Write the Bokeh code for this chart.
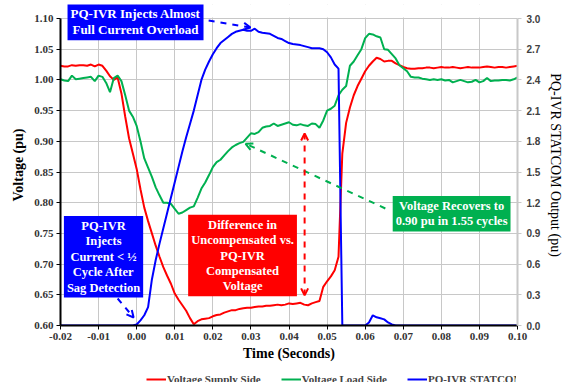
import math
import numpy as np
from bokeh.plotting import figure
from bokeh.layouts import column
from bokeh.models import (LinearAxis, Range1d, FixedTicker, NumeralTickFormatter,
                          Label, Arrow, OpenHead, Legend, LegendItem, BoxAnnotation)
from bokeh.embed import file_html
from bokeh.resources import INLINE

# ---------------- data ----------------
time_s = [round(-0.020 + 0.001 * i, 3) for i in range(121)]

v_supply = [
    1.023, 1.022, 1.022, 1.024, 1.023, 1.024, 1.024, 1.023, 1.025, 1.022,
    1.025, 1.023, 1.015, 1.006, 1.000, 1.004, 0.978, 0.940, 0.905, 0.880,
    0.855, 0.822, 0.792, 0.770, 0.750, 0.730, 0.712, 0.695, 0.681, 0.668,
    0.652, 0.642, 0.633, 0.624, 0.612, 0.602, 0.607, 0.610, 0.611, 0.612,
    0.615, 0.617, 0.618, 0.621, 0.623, 0.625, 0.625, 0.627, 0.628, 0.629,
    0.629, 0.630, 0.631, 0.631, 0.632, 0.632, 0.633, 0.634, 0.633, 0.634,
    0.636, 0.635, 0.636, 0.637, 0.634, 0.633, 0.636, 0.638, 0.640, 0.663,
    0.672, 0.680, 0.690, 0.712, 0.880, 0.930, 0.955, 0.975, 0.990, 1.002,
    1.014, 1.023, 1.030, 1.036, 1.034, 1.030, 1.031, 1.031, 1.027, 1.024,
    1.021, 1.019, 1.018, 1.018, 1.019, 1.019, 1.020, 1.020, 1.019, 1.020,
    1.021, 1.020, 1.020, 1.021, 1.020, 1.019, 1.020, 1.021, 1.020, 1.020,
    1.020, 1.021, 1.022, 1.021, 1.020, 1.021, 1.021, 1.020, 1.021, 1.022,
    1.023,
]

v_load = [
    1.001, 0.999, 0.998, 1.007, 1.001, 1.002, 1.003, 1.004, 1.005, 0.998,
    1.007, 1.005, 0.995, 0.980, 1.003, 1.007, 0.998, 0.975, 0.950, 0.940,
    0.925, 0.900, 0.872, 0.857, 0.842, 0.825, 0.812, 0.800, 0.800, 0.798,
    0.790, 0.782, 0.784, 0.788, 0.792, 0.794, 0.808, 0.823, 0.833, 0.845,
    0.858, 0.866, 0.870, 0.877, 0.884, 0.890, 0.894, 0.897, 0.899, 0.906,
    0.913, 0.912, 0.915, 0.922, 0.924, 0.925, 0.929, 0.925, 0.927, 0.929,
    0.931, 0.927, 0.926, 0.928, 0.926, 0.925, 0.929, 0.928, 0.922, 0.934,
    0.950, 0.953, 0.958, 0.975, 0.984, 0.990, 1.023, 1.030, 1.040, 1.050,
    1.068, 1.075, 1.074, 1.071, 1.069, 1.050, 1.049, 1.042, 1.035, 1.024,
    1.019, 1.014, 1.005, 1.004, 1.004, 1.002, 1.001, 1.000, 1.001, 1.000,
    1.001, 0.999, 1.000, 0.996, 0.998, 1.000, 0.998, 0.996, 0.997, 1.000,
    0.996, 0.998, 1.003, 0.998, 0.999, 0.999, 1.000, 1.000, 0.999, 1.001,
    1.004,
]

statcom = [
    0.0, 0.0, 0.0, 0.0, 0.0, 0.0, 0.0, 0.0, 0.0, 0.0,
    0.0, 0.0, 0.0, 0.0, 0.0, 0.0, 0.0, 0.0, 0.0, 0.0,
    0.01, 0.05, 0.10, 0.18, 0.45, 0.64, 0.80, 0.95, 1.10, 1.25,
    1.40, 1.55, 1.70, 1.84, 1.97, 2.10, 2.25, 2.40, 2.50, 2.58,
    2.65, 2.71, 2.76, 2.79, 2.82, 2.85, 2.87, 2.88, 2.89, 2.88,
    2.88, 2.90, 2.87, 2.86, 2.855, 2.85, 2.83, 2.81, 2.80, 2.78,
    2.76, 2.75, 2.745, 2.74, 2.73, 2.72, 2.71, 2.71, 2.71, 2.70,
    2.67, 2.62, 2.55, 2.51, 0.0, 0.0, 0.0, 0.0, 0.0, 0.0,
    0.0, 0.03, 0.10, 0.08, 0.07, 0.06, 0.03, 0.01, 0.0, 0.0,
    0.0, 0.0, 0.0, 0.0, 0.0, 0.0, 0.0, 0.0, 0.0, 0.0,
    0.0, 0.0, 0.0, 0.0, 0.0, 0.0, 0.0, 0.0, 0.0, 0.0,
    0.0, 0.0, 0.0, 0.0, 0.0, 0.0, 0.0, 0.0, 0.0, 0.0,
    0.0,
]

x_ticks = [-0.02, -0.01, 0.0, 0.01, 0.02, 0.03, 0.04, 0.05, 0.06, 0.07, 0.08, 0.09, 0.10]
left_ticks = [0.60, 0.65, 0.70, 0.75, 0.80, 0.85, 0.90, 0.95, 1.00, 1.05, 1.10]
right_ticks = [0.0, 0.3, 0.6, 0.9, 1.2, 1.5, 1.8, 2.1, 2.4, 2.7, 3.0]

series_names = ["Voltage Supply Side", "Voltage Load Side", "PQ-IVR STATCOM Output"]
right_title = "PQ-IVR STATCOM Output (pu)"

# ---------------- styling ----------------
FONT = "Liberation Serif"
RED = "#FF0000"
GREEN = "#00B050"
BLUE = "#0000FF"
GRID = "#C8C8C8"

# frame: 457 x 321 px; the top 14 px are headroom above 1.10 for the callout box
FRAME_W, FRAME_H = 457, 321
V_LO, V_HI = 0.60, 1.10
V_TOP = V_LO + (V_HI - V_LO) * FRAME_H / 307
R_TOP = 3.0 * FRAME_H / 307

p = figure(frame_width=FRAME_W, frame_height=FRAME_H, output_backend="svg", toolbar_location=None,
           x_range=Range1d(-0.02, 0.10), y_range=Range1d(V_LO, V_TOP),
           min_border_left=60, min_border_right=48, min_border_top=4, min_border_bottom=0)
p.extra_y_ranges = {"right": Range1d(0.0, R_TOP)}
p.outline_line_color = None
p.background_fill_color = "white"

# axes
p.xaxis.ticker = FixedTicker(ticks=x_ticks)
p.xaxis.formatter = NumeralTickFormatter(format="0.00")
p.yaxis.ticker = FixedTicker(ticks=left_ticks)
p.yaxis.formatter = NumeralTickFormatter(format="0.00")
p.yaxis.bounds = (V_LO, V_HI)
p.xaxis.axis_label = "Time (Seconds)"
p.yaxis.axis_label = "Voltage (pu)"

ax_r = LinearAxis(y_range_name="right", ticker=FixedTicker(ticks=right_ticks),
                  formatter=NumeralTickFormatter(format="0.0"), bounds=(0.0, 3.0),
                  axis_label=right_title)
p.add_layout(ax_r, "right")

for ax in [p.xaxis[0], p.yaxis[0], ax_r]:
    ax.major_label_text_font = FONT
    ax.major_label_text_font_style = "bold"
    ax.major_label_text_font_size = "11px"
    ax.major_label_text_color = "#333333"
    ax.axis_label_text_font = FONT
    ax.axis_label_text_font_style = "bold"
    ax.axis_label_text_color = "black"
    ax.minor_tick_line_color = None
    ax.major_tick_in = 0
    ax.major_tick_out = 4
    ax.major_label_standoff = 3

p.xaxis.major_label_standoff = 3
ax_r.major_label_standoff = 5
ax_r.major_label_text_font = "Liberation Sans"
ax_r.major_label_text_font_size = "10px"
ax_r.major_label_text_color = "#404040"
ax_r.axis_label_text_font_size = "14px"
ax_r.axis_label_text_font_style = "normal"
ax_r.axis_label_standoff = 5
p.xaxis.axis_label_text_font_size = "14px"
p.xaxis.axis_label_standoff = 3
p.yaxis.axis_label_text_font_size = "14px"
p.yaxis.axis_label_standoff = 5

p.xaxis.axis_line_width = 2
p.xaxis.axis_line_color = "black"
p.yaxis.axis_line_width = 2
p.yaxis.axis_line_color = "black"
ax_r.axis_line_color = GRID
ax_r.major_tick_line_color = GRID

p.xgrid.ticker = FixedTicker(ticks=x_ticks)
p.ygrid.ticker = FixedTicker(ticks=left_ticks)
p.grid.grid_line_color = GRID
p.grid.grid_line_width = 1

# white cover for the headroom above 1.10 (hides grid stubs)
p.add_layout(BoxAnnotation(bottom=V_HI + 0.0015, fill_color="white", fill_alpha=1.0,
                           line_color=None, level="glyph"))

# series
r_sup = p.line(time_s, v_supply, color=RED, line_width=2)
r_load = p.line(time_s, v_load, color=GREEN, line_width=2)
r_st = p.line(time_s, statcom, color=BLUE, line_width=2, y_range_name="right")

# annotations (boxes)
def box(text, x, y, color, size="12px"):
    lab = Label(x=x, y=y, text=text, text_align="center", text_baseline="middle",
                text_font=FONT, text_font_style="bold", text_font_size=size,
                text_color="white", background_fill_color=color,
                border_line_color=None, padding=3, text_line_height=1.1)
    p.add_layout(lab)

box("PQ-IVR Injects Almost\nFull Current Overload", -0.0003, 1.095, BLUE, "13px")
box("PQ-IVR\nInjects\nCurrent < \u00bd\nCycle After\nSag Detection", -0.0087, 0.712, BLUE, "12.5px")
box("Difference in\nUncompensated vs.\nPQ-IVR\nCompensated\nVoltage", 0.0278, 0.714, RED, "12.5px")
box("Voltage Recovers to\n0.90 pu in 1.55 cycles", 0.0827, 0.782, GREEN, "12.5px")

# arrows
p.add_layout(Arrow(x_start=0.0189, y_start=1.0967, x_end=0.0299, y_end=1.0854,
                   line_color=BLUE, line_width=2, line_dash="dashed",
                   end=OpenHead(size=7, line_color=BLUE, line_width=2)))
p.add_layout(Arrow(x_start=-0.0050, y_start=0.644, x_end=-0.0008, y_end=0.613,
                   line_color=BLUE, line_width=2, line_dash="dashed",
                   end=OpenHead(size=7, line_color=BLUE, line_width=2)))
p.add_layout(Arrow(x_start=0.0653, y_start=0.7906, x_end=0.0286, y_end=0.896,
                   line_color=GREEN, line_width=2, line_dash="dashed",
                   end=OpenHead(size=7, line_color=GREEN, line_width=2)))
p.add_layout(Arrow(x_start=0.0441, y_start=0.649, x_end=0.0441, y_end=0.9127,
                   line_color=RED, line_width=2, line_dash="dashed",
                   start=OpenHead(size=7, line_color=RED, line_width=2),
                   end=OpenHead(size=7, line_color=RED, line_width=2)))

# legend strip under the chart (its own small figure; the series lie outside its y-range)
pl = figure(width=565, height=22, output_backend="svg", toolbar_location=None,
            x_range=Range1d(-0.02, 0.10), y_range=Range1d(50, 51), min_border=0)
pl.axis.visible = False
pl.grid.visible = False
pl.outline_line_color = None
l_sup = pl.line(time_s, v_supply, color=RED, line_width=2)
l_load = pl.line(time_s, v_load, color=GREEN, line_width=2)
l_st = pl.line(time_s, statcom, color=BLUE, line_width=2)
legend = Legend(items=[LegendItem(label=series_names[0], renderers=[l_sup]),
                       LegendItem(label=series_names[1], renderers=[l_load]),
                       LegendItem(label=series_names[2], renderers=[l_st])],
                orientation="horizontal", location=(86, 0),
                label_text_font=FONT, label_text_font_style="bold",
                label_text_font_size="11px", label_height=12, glyph_height=12,
                glyph_width=20, spacing=20, padding=1, margin=0,
                border_line_color=None, background_fill_alpha=0,
                label_standoff=1)
pl.add_layout(legend)

layout = column(p, pl)
open("out.html", "w").write(file_html(layout, INLINE))
